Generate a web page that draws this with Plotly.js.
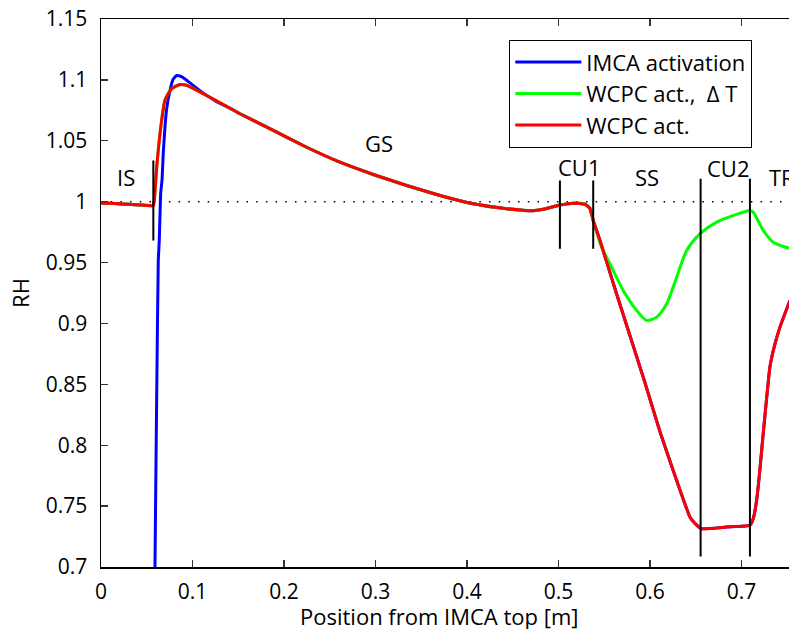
<!DOCTYPE html>
<html>
<head>
<meta charset="utf-8">
<script src="https://cdn.plot.ly/plotly-3.0.1.min.js"></script>
<style>html,body{margin:0;padding:0;background:#fff;}#chart{width:789px;height:629px;}</style>
</head>
<body>
<div id="chart"></div>
<script>
// ---- data ----
// segment shared by all three curves before the inlet boundary
const xInlet = [0, 0.015, 0.03, 0.045, 0.0555];
const yInlet = [0.9990, 0.9985, 0.9978, 0.9972, 0.9966];

// red (WCPC act.) rise after IS
const xRedRise = [0.0572, 0.0585, 0.0609, 0.0645, 0.0699, 0.0773, 0.0863, 0.0937, 0.108, 0.1446];
const yRedRise = [0.9966, 1.0030, 1.0285, 1.0560, 1.0833, 1.0929, 1.0962, 1.0956, 1.0901, 1.0753];

// blue (IMCA activation) rise from below the axis
const xBlueRise = [0.0586, 0.0590, 0.0609, 0.0626, 0.0637, 0.0652, 0.0667, 0.0681, 0.0718, 0.0754, 0.0787, 0.0827, 0.0863, 0.0900, 0.0973, 0.1082, 0.1250, 0.1446];
const yBlueRise = [0.60, 0.6997, 0.8425, 0.9517, 0.9681, 1.0065, 1.0174, 1.0404, 1.0765, 1.0913, 1.1003, 1.1036, 1.1032, 1.1017, 1.0975, 1.0912, 1.0828, 1.0753];

// shared growth section GS and CU1
const xGS = [0.1519, 0.1883, 0.2248, 0.2612, 0.2976, 0.3341, 0.3705, 0.4069, 0.4434, 0.4725, 0.4834, 0.5016, 0.5162, 0.5290, 0.5344, 0.5380];
const yGS = [1.0722, 1.0585, 1.0447, 1.0324, 1.0223, 1.0133, 1.0051, 0.9983, 0.9942, 0.9925, 0.9937, 0.9972, 0.9988, 0.9979, 0.9945, 0.9846];

// red after CU1 (no temperature change)
const xRedTail = [0.5454, 0.5617, 0.5781, 0.5945, 0.6109, 0.6292, 0.6437, 0.6492, 0.6565, 0.6838, 0.7093, 0.7129, 0.7166, 0.7202, 0.7238, 0.7311, 0.7366, 0.7421, 0.7530];
const yRedTail = [0.9681, 0.9287, 0.8901, 0.8515, 0.8113, 0.7711, 0.7410, 0.7358, 0.7314, 0.7328, 0.7342, 0.7397, 0.7547, 0.7800, 0.8095, 0.8641, 0.8830, 0.8970, 0.9189];

// green after CU1 (with temperature change)
const xGreenTail = [0.5472, 0.5563, 0.5708, 0.5855, 0.5964, 0.6073, 0.6183, 0.6292, 0.6401, 0.6546, 0.6729, 0.6947, 0.7093, 0.7129, 0.7238, 0.7348, 0.7530];
const yGreenTail = [0.9627, 0.9490, 0.9271, 0.9107, 0.9025, 0.9052, 0.9162, 0.9380, 0.9599, 0.9736, 0.9832, 0.9895, 0.9928, 0.9914, 0.9764, 0.9667, 0.9616];

// section boundaries
const boundX = [0.0572, 0.5016, 0.5380, 0.6554, 0.7093];
const boundYLow = [0.9681, 0.9613, 0.9613, 0.7087, 0.7087];
const boundYHigh = [1.0338, 1.0174, 1.0174, 1.0188, 1.0188];

// section labels
const secLabels = ['IS', 'GS', 'CU1', 'SS', 'CU2', 'TR'];
const secX = [0.0273, 0.3038, 0.5224, 0.5973, 0.6852, 0.7276];
const secY = [1.0201, 1.0478, 1.0284, 1.0201, 1.0279, 1.0201];
const secAnchor = ['center', 'center', 'center', 'center', 'center', 'left'];

const seriesNames = ['IMCA activation', 'WCPC act.,  \u0394 T', 'WCPC act.'];
const seriesColors = ['#0000ff', '#00ff00', '#ff0000'];
const seriesSmoothing = [0.35, 0.7, 0.35];

const yTickVals = [0.7, 0.75, 0.8, 0.85, 0.9, 0.95, 1, 1.05, 1.1, 1.15];
const yTickText = ['0.7', '0.75', '0.8', '0.85', '0.9', '0.95', '1', '1.05', '1.1', '1.15'];
const xTickVals = [0, 0.1, 0.2, 0.3, 0.4, 0.5, 0.6, 0.7];
const xTickText = ['0', '0.1', '0.2', '0.3', '0.4', '0.5', '0.6', '0.7'];
const xTitle = 'Position from IMCA top [m]';
const yTitle = 'RH';
const refLevel = 1;
const xMax = 0.752;

// ---- build traces ----
const xBlue = xInlet.concat([null], xBlueRise, xGS, xRedTail);
const yBlue = yInlet.concat([null], yBlueRise, yGS, yRedTail);
const xGreen = xInlet.concat(xRedRise, xGS, xGreenTail);
const yGreen = yInlet.concat(yRedRise, yGS, yGreenTail);
const xRed = xInlet.concat(xRedRise, xGS, xRedTail);
const yRed = yInlet.concat(yRedRise, yGS, yRedTail);

const font = 'Open Sans, Noto Sans, sans-serif';
const xs = [xBlue, xGreen, xRed];
const ys = [yBlue, yGreen, yRed];
const traces = xs.map((x, i) => ({
  x: x, y: ys[i], type: 'scatter', mode: 'lines', name: seriesNames[i],
  legendgroup: 'g' + i, connectgaps: false, cliponaxis: true,
  line: {color: seriesColors[i], width: 3, shape: 'spline', smoothing: seriesSmoothing[i]}
}));

const shapes = [{
  type: 'line', xref: 'x', yref: 'y', x0: 0, x1: xMax, y0: refLevel, y1: refLevel,
  line: {color: '#000', width: 1.5, dash: '1.5px,8.2px'}, layer: 'below'
}];
boundX.forEach((bx, i) => shapes.push({
  type: 'line', xref: 'x', yref: 'y', x0: bx, x1: bx, y0: boundYLow[i], y1: boundYHigh[i],
  line: {color: '#000', width: 2}
}));

const annotations = secLabels.map((t, i) => ({
  text: t, x: secX[i], y: secY[i], xref: 'x', yref: 'y', showarrow: false,
  xanchor: secAnchor[i], yanchor: 'middle', font: {family: font, size: 22, color: '#000'}
}));
// x-axis title placed as paper annotation (axis titles are clamped inside the margin)
annotations.push({
  text: xTitle, xref: 'paper', yref: 'paper', x: 0.491, y: -0.089,
  xanchor: 'center', yanchor: 'middle', showarrow: false,
  font: {family: font, size: 22, color: '#000'}
});

const layout = {
  width: 789, height: 629,
  margin: {l: 101, r: 0, t: 19, b: 62, pad: 0},
  paper_bgcolor: '#fff', plot_bgcolor: '#fff',
  font: {family: font, size: 21, color: '#000'},
  showlegend: true,
  legend: {
    x: 0.593, y: 0.962, xanchor: 'left', yanchor: 'top',
    bgcolor: '#fff', bordercolor: '#000', borderwidth: 1.3,
    font: {family: font, size: 22, color: '#000'},
    traceorder: 'grouped', tracegroupgap: 0, itemwidth: 66
  },
  xaxis: {
    range: [0, xMax], tickvals: xTickVals, ticktext: xTickText,
    ticks: 'inside', ticklen: 7, tickwidth: 1.3, tickcolor: '#333',
    showline: true, linecolor: '#000', linewidth: 1.5, mirror: 'ticks',
    showgrid: false, zeroline: false, ticklabelstandoff: 5,
    tickfont: {family: font, size: 21, color: '#000'}
  },
  yaxis: {
    range: [0.7, 1.15], tickvals: yTickVals, ticktext: yTickText,
    ticks: 'inside', ticklen: 7, tickwidth: 1.3, tickcolor: '#333',
    showline: true, linecolor: '#000', linewidth: 1.5, mirror: false,
    showgrid: false, zeroline: false, ticklabelstandoff: 8,
    tickfont: {family: font, size: 21, color: '#000'},
    title: {text: yTitle, font: {family: font, size: 22, color: '#000'}, standoff: 10}
  },
  shapes: shapes,
  annotations: annotations
};

Plotly.newPlot('chart', traces, layout, {staticPlot: true, displayModeBar: false});
</script>
</body>
</html>
